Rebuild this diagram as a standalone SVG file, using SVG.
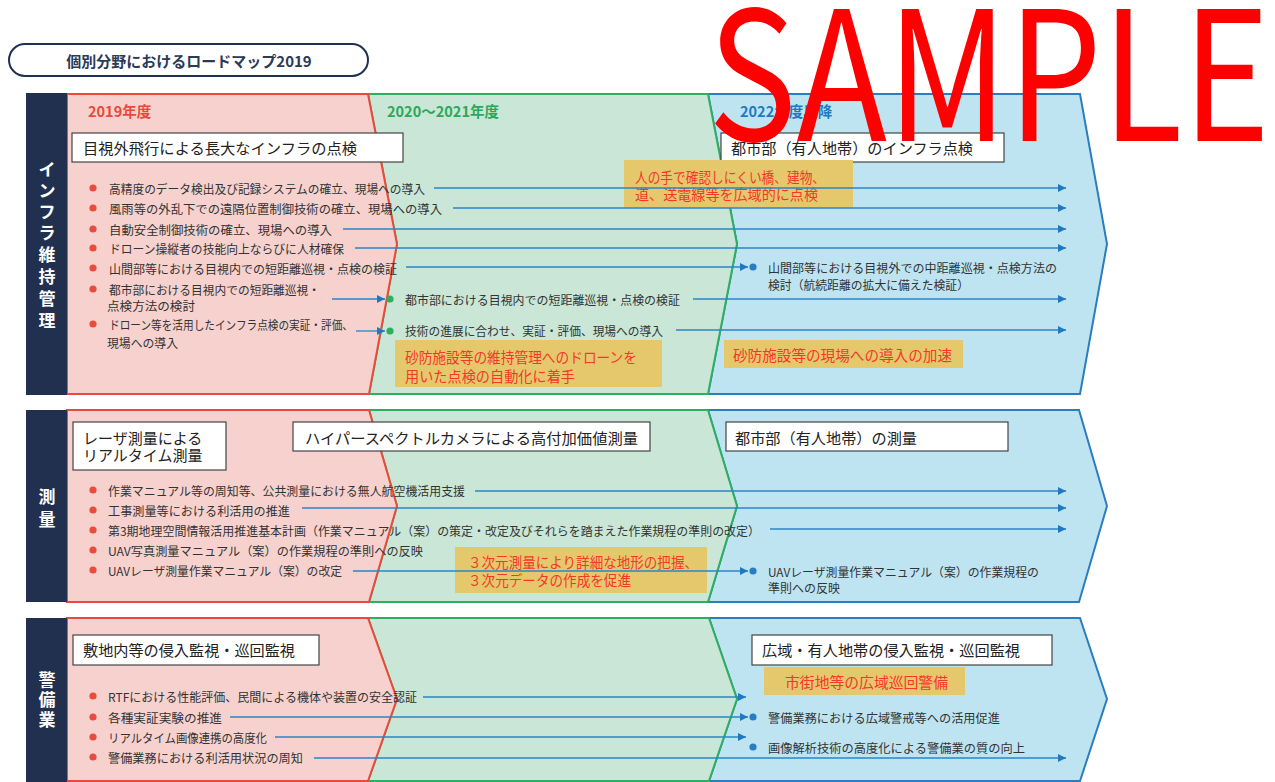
<svg xmlns="http://www.w3.org/2000/svg" width="1275" height="782" viewBox="0 0 1275 782">
<defs>
<style>
text{font-family:"Noto Sans CJK JP","Noto Sans",sans-serif;dominant-baseline:central}
.b{font-size:12px;fill:#333}
.bt{font-size:15px;fill:#222}
.box{fill:#fff;stroke:#444;stroke-width:1.2}
.call{fill:#E5C86C}
.ct{font-size:14.5px;fill:#F5372A}
.conn{stroke:#2A86C6;stroke-width:1.3;fill:none;marker-end:url(#ah)}
.pink{fill:#F6D1CE;stroke:#E94A3B;stroke-width:2}
.green{fill:#C9E6D7;stroke:#2EAE5E;stroke-width:2}
.blue{fill:#BEE4F2;stroke:#2B7DC0;stroke-width:2}
.navy{fill:#22304F}
.vl{font-size:17px;font-weight:bold;fill:#fff;text-anchor:middle}
.rd{fill:#E84C3D}
.gd{fill:#2EAE5E}
.bd{fill:#2A7DC0}
.hd{font-size:14.5px;font-weight:bold}
</style>
<marker id="ah" viewBox="0 0 10 10" refX="10" refY="5" markerWidth="9" markerHeight="8" markerUnits="userSpaceOnUse" orient="auto"><path d="M0,0 L10,5 L0,10z" fill="#1F78C0"/></marker>
</defs>
<rect width="1275" height="782" fill="#fff"/>

<g id="title">
<rect x="9" y="44" width="359" height="32" rx="16" fill="#fff" stroke="#1F3150" stroke-width="2"/>
<text x="189" y="60" text-anchor="middle" font-size="15" font-weight="bold" fill="#2B3A55">個別分野におけるロードマップ2019</text>
</g>

<g id="section-infra">
<path class="blue" d="M708,94 L1080,94 L1107,244 L1080,394 L708,394 L737,244 Z"/>
<path class="green" d="M368,94 L708,94 L737,244 L708,394 L369,394 L397,244 Z"/>
<path class="pink" d="M67,94 L368,94 L397,244 L369,394 L67,394 Z"/>
<rect class="navy" x="26" y="93" width="41" height="302"/>
<text class="vl"><tspan x="47" y="168">イ</tspan><tspan x="47" y="189">ン</tspan><tspan x="47" y="210">フ</tspan><tspan x="47" y="231">ラ</tspan><tspan x="47" y="253">維</tspan><tspan x="47" y="275">持</tspan><tspan x="47" y="297">管</tspan><tspan x="47" y="319">理</tspan></text>
<text class="hd" x="88" y="110" fill="#E8493A">2019年度</text>
<text class="hd" x="387" y="110" fill="#2CA85A">2020～2021年度</text>
<text class="hd" x="740" y="110" fill="#1F7AC4">2022年度以降</text>
</g>

<g id="box-infra-1"><rect class="box" x="72" y="133" width="331" height="29"/><text class="bt" x="83" y="147" textLength="274" lengthAdjust="spacingAndGlyphs">目視外飛行による長大なインフラの点検</text></g>
<g id="box-infra-2"><rect class="box" x="721" y="133" width="283" height="29"/><text class="bt" x="731" y="147" textLength="242" lengthAdjust="spacingAndGlyphs">都市部（有人地帯）のインフラ点検</text></g>

<g id="infra-items">
<circle class="rd" cx="93" cy="188" r="3.6"/><text class="b" x="109" y="188" textLength="316" lengthAdjust="spacingAndGlyphs">高精度のデータ検出及び記録システムの確立、現場への導入</text>
<circle class="rd" cx="93" cy="208" r="3.6"/><text class="b" x="109" y="208" textLength="333" lengthAdjust="spacingAndGlyphs">風雨等の外乱下での遠隔位置制御技術の確立、現場への導入</text>
<circle class="rd" cx="93" cy="229" r="3.6"/><text class="b" x="109" y="229" textLength="223" lengthAdjust="spacingAndGlyphs">自動安全制御技術の確立、現場への導入</text>
<circle class="rd" cx="93" cy="248" r="3.6"/><text class="b" x="109" y="248" textLength="235" lengthAdjust="spacingAndGlyphs">ドローン操縦者の技能向上ならびに人材確保</text>
<circle class="rd" cx="93" cy="268" r="3.6"/><text class="b" x="109" y="268" textLength="288" lengthAdjust="spacingAndGlyphs">山間部等における目視内での短距離巡視・点検の検証</text>
<circle class="rd" cx="93" cy="289" r="3.6"/><text class="b" x="109" y="289" textLength="211" lengthAdjust="spacingAndGlyphs">都市部における目視内での短距離巡視・</text><text class="b" x="107" y="305" textLength="88" lengthAdjust="spacingAndGlyphs">点検方法の検討</text>
<circle class="rd" cx="93" cy="324" r="3.6"/><text class="b" x="109" y="324" textLength="244" lengthAdjust="spacingAndGlyphs">ドローン等を活用したインフラ点検の実証・評価、</text><text class="b" x="107" y="342" textLength="71" lengthAdjust="spacingAndGlyphs">現場への導入</text>
</g>
<g id="infra-mid">
<circle class="gd" cx="390" cy="299" r="3.6"/><text class="b" x="405" y="299" textLength="275" lengthAdjust="spacingAndGlyphs">都市部における目視内での短距離巡視・点検の検証</text>
<circle class="gd" cx="390" cy="331" r="3.6"/><text class="b" x="405" y="330" textLength="258" lengthAdjust="spacingAndGlyphs">技術の進展に合わせ、実証・評価、現場への導入</text>
</g>
<g id="infra-right">
<circle class="bd" cx="753" cy="267" r="3.6"/><text class="b" x="768" y="267" textLength="289" lengthAdjust="spacingAndGlyphs">山間部等における目視外での中距離巡視・点検方法の</text><text class="b" x="768" y="284" textLength="201" lengthAdjust="spacingAndGlyphs">検討（航続距離の拡大に備えた検証）</text>
</g>
<g id="callout-infra-1"><rect class="call" x="624" y="160" width="229" height="48"/><text class="ct" x="635" y="176" textLength="190" lengthAdjust="spacingAndGlyphs">人の手で確認しにくい橋、建物、</text><text class="ct" x="635" y="193" textLength="183" lengthAdjust="spacingAndGlyphs">道、送電線等を広域的に点検</text></g>
<g id="callout-infra-2"><rect class="call" x="395" y="340" width="267" height="47"/><text class="ct" x="405" y="356" textLength="232" lengthAdjust="spacingAndGlyphs">砂防施設等の維持管理へのドローンを</text><text class="ct" x="405" y="375" textLength="170" lengthAdjust="spacingAndGlyphs">用いた点検の自動化に着手</text></g>
<g id="callout-infra-3"><rect class="call" x="724" y="340" width="239" height="28"/><text class="ct" x="733" y="354" textLength="219" lengthAdjust="spacingAndGlyphs">砂防施設等の現場への導入の加速</text></g>

<g id="section-survey">
<path class="blue" d="M708,410 L1079,410 L1107,506 L1079,602 L708,602 L737,506 Z"/>
<path class="green" d="M369,410 L708,410 L737,506 L708,602 L369,602 L397,506 Z"/>
<path class="pink" d="M67,410 L369,410 L397,506 L369,602 L67,602 Z"/>
<rect class="navy" x="26" y="410" width="41" height="192"/>
<text class="vl"><tspan x="47" y="495">測</tspan><tspan x="47" y="518">量</tspan></text>
</g>
<g id="box-survey-1"><rect class="box" x="73" y="422" width="153" height="48"/><text class="bt" x="83" y="437">レーザ測量による</text><text class="bt" x="83" y="454">リアルタイム測量</text></g>
<g id="box-survey-2"><rect class="box" x="293" y="422" width="357" height="29"/><text class="bt" x="305" y="437" textLength="333" lengthAdjust="spacingAndGlyphs">ハイパースペクトルカメラによる高付加価値測量</text></g>
<g id="box-survey-3"><rect class="box" x="726" y="422" width="282" height="29"/><text class="bt" x="735" y="437" textLength="182" lengthAdjust="spacingAndGlyphs">都市部（有人地帯）の測量</text></g>
<g id="survey-items">
<circle class="rd" cx="93" cy="490" r="3.6"/><text class="b" x="108" y="490" textLength="357" lengthAdjust="spacingAndGlyphs">作業マニュアル等の周知等、公共測量における無人航空機活用支援</text>
<circle class="rd" cx="93" cy="510" r="3.6"/><text class="b" x="108" y="510" textLength="182" lengthAdjust="spacingAndGlyphs">工事測量等における利活用の推進</text>
<circle class="rd" cx="93" cy="530" r="3.6"/><text class="b" x="108" y="530" textLength="652" lengthAdjust="spacingAndGlyphs">第3期地理空間情報活用推進基本計画（作業マニュアル（案）の策定・改定及びそれらを踏まえた作業規程の準則の改定）</text>
<circle class="rd" cx="93" cy="550" r="3.6"/><text class="b" x="108" y="550" textLength="315" lengthAdjust="spacingAndGlyphs">UAV写真測量マニュアル（案）の作業規程の準則への反映</text>
<circle class="rd" cx="93" cy="570" r="3.6"/><text class="b" x="108" y="570" textLength="234" lengthAdjust="spacingAndGlyphs">UAVレーザ測量作業マニュアル（案）の改定</text>
</g>
<g id="survey-right">
<circle class="bd" cx="753" cy="571" r="3.6"/><text class="b" x="768" y="571" textLength="271" lengthAdjust="spacingAndGlyphs">UAVレーザ測量作業マニュアル（案）の作業規程の</text><text class="b" x="768" y="587">準則への反映</text>
</g>
<g id="callout-survey"><rect class="call" x="455" y="547" width="252" height="46"/><text class="ct" x="468" y="561" textLength="230" lengthAdjust="spacingAndGlyphs">３次元測量により詳細な地形の把握、</text><text class="ct" x="468" y="579" textLength="163" lengthAdjust="spacingAndGlyphs">３次元データの作成を促進</text></g>

<g id="section-security">
<path class="blue" d="M709,618 L1080,618 L1107,699 L1080,781 L709,781 L737,699 Z"/>
<path class="green" d="M368,618 L709,618 L737,699 L709,781 L368,781 L397,699 Z"/>
<path class="pink" d="M67,618 L368,618 L397,699 L368,781 L67,781 Z"/>
<rect class="navy" x="26" y="618" width="41" height="164"/>
<text class="vl"><tspan x="47" y="678">警</tspan><tspan x="47" y="698">備</tspan><tspan x="47" y="718">業</tspan></text>
</g>
<g id="box-security-1"><rect class="box" x="73" y="635" width="246" height="30"/><text class="bt" x="83" y="649" textLength="212" lengthAdjust="spacingAndGlyphs">敷地内等の侵入監視・巡回監視</text></g>
<g id="box-security-2"><rect class="box" x="752" y="635" width="300" height="30"/><text class="bt" x="762" y="649" textLength="258" lengthAdjust="spacingAndGlyphs">広域・有人地帯の侵入監視・巡回監視</text></g>
<g id="callout-security"><rect class="call" x="764" y="667" width="201" height="28"/><text class="ct" x="785" y="681" font-size="15" textLength="163" lengthAdjust="spacingAndGlyphs">市街地等の広域巡回警備</text></g>
<g id="security-items">
<circle class="rd" cx="93" cy="696" r="3.6"/><text class="b" x="108" y="696" textLength="309" lengthAdjust="spacingAndGlyphs">RTFにおける性能評価、民間による機体や装置の安全認証</text>
<circle class="rd" cx="93" cy="717" r="3.6"/><text class="b" x="108" y="717" textLength="114" lengthAdjust="spacingAndGlyphs">各種実証実験の推進</text>
<circle class="rd" cx="93" cy="737" r="3.6"/><text class="b" x="108" y="737" textLength="159" lengthAdjust="spacingAndGlyphs">リアルタイム画像連携の高度化</text>
<circle class="rd" cx="93" cy="757" r="3.6"/><text class="b" x="108" y="757" textLength="195" lengthAdjust="spacingAndGlyphs">警備業務における利活用状況の周知</text>
</g>
<g id="security-right">
<circle class="bd" cx="753" cy="717" r="3.6"/><text class="b" x="768" y="717" textLength="232" lengthAdjust="spacingAndGlyphs">警備業務における広域警戒等への活用促進</text>
<circle class="bd" cx="753" cy="747" r="3.6"/><text class="b" x="768" y="747" textLength="257" lengthAdjust="spacingAndGlyphs">画像解析技術の高度化による警備業の質の向上</text>
</g>

<g id="connectors">
<path class="conn" d="M434,188 H1066"/>
<path class="conn" d="M453,208 H1066"/>
<path class="conn" d="M343,229 H1066"/>
<path class="conn" d="M355,248 H1066"/>
<path class="conn" d="M406,267 H748"/>
<path class="conn" d="M332,299 H385"/>
<path class="conn" d="M356,331 H385"/>
<path class="conn" d="M693,299 H1066"/>
<path class="conn" d="M676,330 H1066"/>
<path class="conn" d="M475,491 H1066"/>
<path class="conn" d="M302,508 H1066"/>
<path class="conn" d="M770,529 H1066"/>
<path class="conn" d="M353,571 H748"/>
<path class="conn" d="M423,697 H746"/>
<path class="conn" d="M230,717 H748"/>
<path class="conn" d="M275,737 H746"/>
<path class="conn" d="M314,758 H1066"/>
</g>

<g id="watermark">
<text x="708" y="141" font-family="Liberation Sans, Arial, sans-serif" font-size="180" fill="#FF0000" textLength="562" lengthAdjust="spacingAndGlyphs" style="dominant-baseline:alphabetic">SAMPLE</text>
</g>
</svg>
